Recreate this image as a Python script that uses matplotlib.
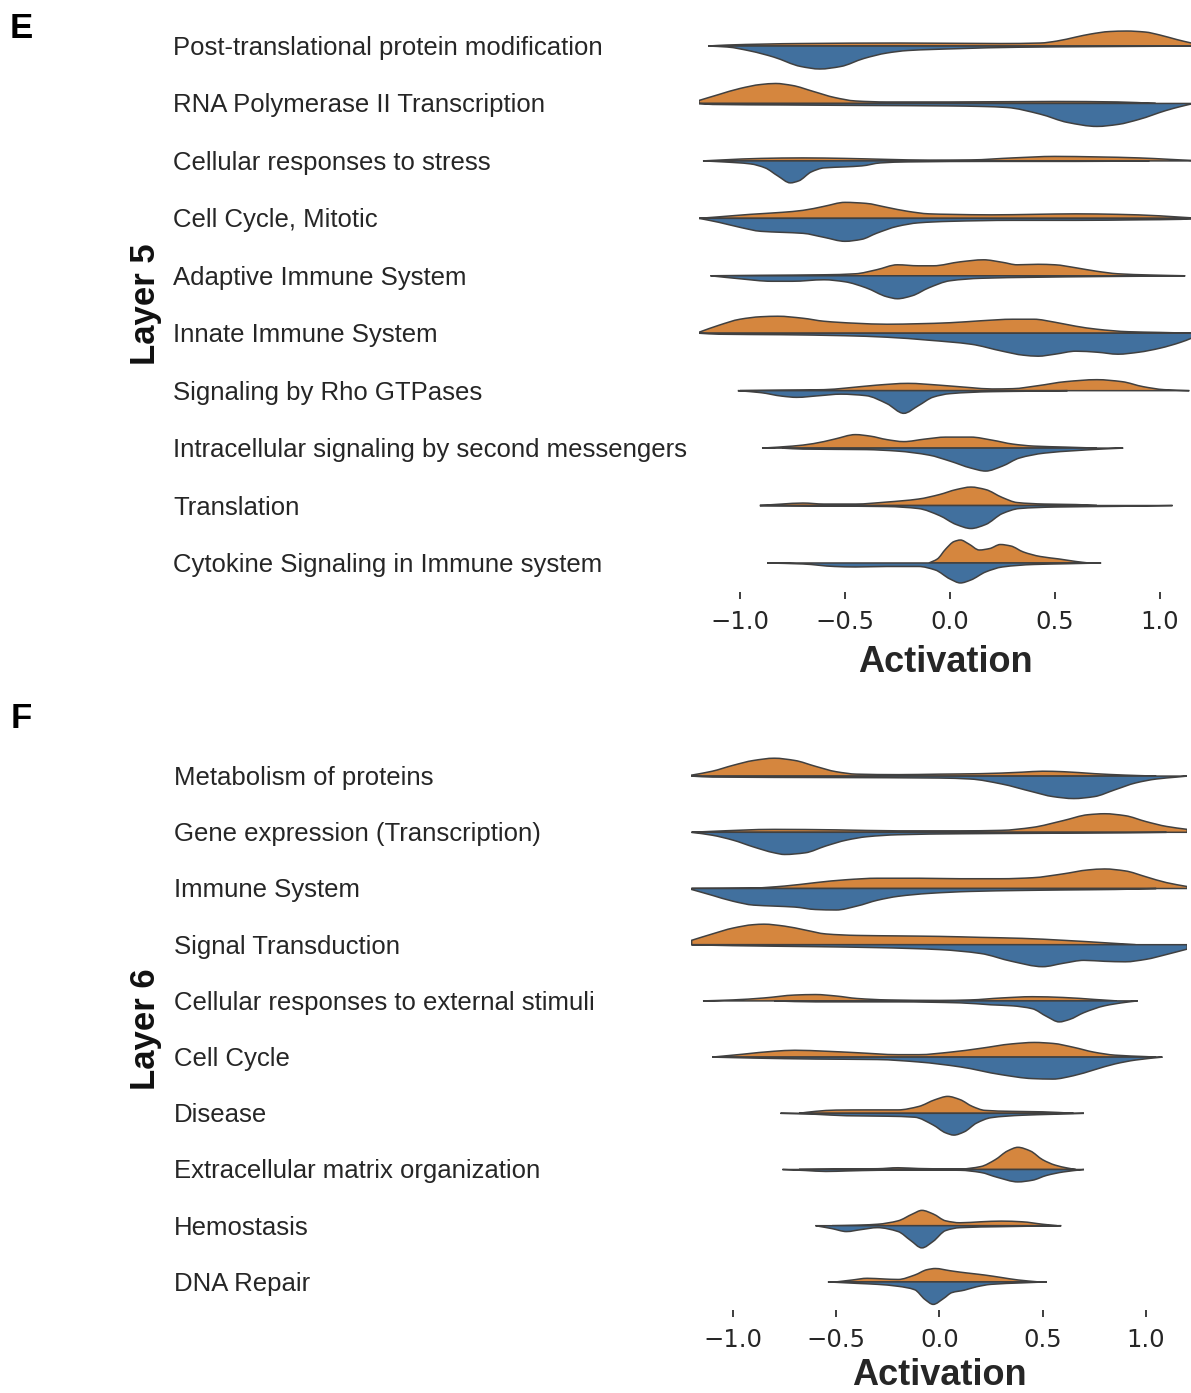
import numpy as np
import matplotlib.pyplot as plt
import matplotlib.transforms as mtransforms
from matplotlib.path import Path
from matplotlib.patches import PathPatch

plt.rcParams['font.family'] = ['Liberation Sans', 'DejaVu Sans']

# ---- Layer 5 pathways (top to bottom) ----
l5_labels = [
    'Post-translational protein modification',
    'RNA Polymerase II Transcription',
    'Cellular responses to stress',
    'Cell Cycle, Mitotic',
    'Adaptive Immune System',
    'Innate Immune System',
    'Signaling by Rho GTPases',
    'Intracellular signaling by second messengers',
    'Translation',
    'Cytokine Signaling in Immune system',
]

# group 1 (orange, upper half): activation grid and density per row
l5_g1_x = [
    [-1.152, -1.06, -0.71, -0.24, 0.24, 0.43, 0.51, 0.6, 0.67, 0.76, 0.84, 0.93, 1.0, 1.08, 1.15, 1.22],
    [-1.195, -1.1, -1.0, -0.9, -0.83, -0.75, -0.65, -0.55, -0.45, -0.3, 0.0, 0.5, 0.8, 0.98],
    [-1.176, -1.08, -0.9, -0.7, -0.5, -0.3, -0.1, 0.1, 0.3, 0.5, 0.7, 0.9, 1.05, 1.15, 1.22],
    [-1.195, -1.1, -0.95, -0.8, -0.7, -0.6, -0.5, -0.4, -0.3, -0.2, -0.1, 0.0, 0.2, 0.4, 0.6, 0.8, 1.0, 1.15, 1.22],
    [-1.14, -0.9, -0.6, -0.45, -0.35, -0.25, -0.15, -0.08, 0.05, 0.16, 0.25, 0.32, 0.42, 0.5, 0.6, 0.7, 0.8, 0.95, 1.12],
    [-1.195, -1.1, -1.0, -0.9, -0.82, -0.7, -0.6, -0.45, -0.3, -0.15, 0.0, 0.15, 0.3, 0.4, 0.5, 0.6, 0.7, 0.85, 1.0, 1.15],
    [-1.0, -0.8, -0.6, -0.5, -0.35, -0.2, -0.05, 0.1, 0.2, 0.3, 0.42, 0.55, 0.7, 0.82, 0.92, 1.02, 1.14],
    [-0.895, -0.75, -0.65, -0.55, -0.45, -0.38, -0.3, -0.22, -0.12, -0.02, 0.1, 0.2, 0.3, 0.4, 0.55, 0.7],
    [-0.905, -0.8, -0.7, -0.6, -0.45, -0.3, -0.15, -0.05, 0.03, 0.1, 0.17, 0.25, 0.32, 0.45, 0.6, 0.7],
    [-0.1, -0.06, -0.02, 0.02, 0.05, 0.09, 0.14, 0.19, 0.24, 0.29, 0.35, 0.43, 0.52, 0.6, 0.66],
]
l5_g1_d = [
    [0, 1, 2.5, 3, 2.5, 3, 5, 9, 12, 14.5, 15, 14, 11, 6.5, 3, 0],
    [3, 9, 15, 19, 20, 18, 12, 6, 2.5, 1.5, 1.5, 2, 1.5, 0],
    [0, 1, 2.5, 3, 2.5, 1.5, 0.8, 1, 3, 4.5, 4, 3, 1.5, 0.5, 0],
    [0, 1.5, 4, 6, 8, 12, 16, 15, 11, 7, 4.5, 4, 3.5, 4, 4.5, 4, 2.5, 0.5, 0],
    [0, 0.5, 1, 2, 6, 11, 10, 10, 14, 16, 13.5, 11, 11.5, 11, 8, 4.5, 2, 0.8, 0],
    [1, 8, 14, 16.5, 17, 15, 12, 10, 9, 9.5, 10.5, 12.5, 14, 14, 11, 7, 4, 1.5, 0.8, 0],
    [0, 0.5, 1, 2.5, 5.5, 7.3, 5.5, 3, 1.7, 2, 5, 9, 11, 9, 4, 1, 0],
    [0, 2, 4.5, 9, 13.5, 12, 8.5, 6.5, 9, 11, 11, 8, 4, 2, 1, 0],
    [0, 1.5, 2.5, 1.5, 1.5, 3.5, 6.5, 11, 16, 18.5, 16, 8, 3, 1.5, 1, 0],
    [0, 4, 14, 21.5, 23, 19, 13, 14.5, 18.5, 17, 11, 6.5, 4, 1.5, 0],
]

# group 2 (blue, lower half)
l5_g2_x = [
    [-1.152, -1.06, -0.95, -0.84, -0.71, -0.62, -0.52, -0.41, -0.3, -0.2, 0.03, 0.33, 0.7, 1.22],
    [-1.195, -1.13, -0.8, -0.4, 0.0, 0.15, 0.27, 0.43, 0.56, 0.7, 0.8, 0.9, 1.03, 1.1, 1.15],
    [-1.176, -1.08, -0.95, -0.88, -0.82, -0.76, -0.72, -0.66, -0.6, -0.5, -0.42, -0.33, -0.2, 0.2, 0.6, 0.95],
    [-1.195, -1.1, -1.0, -0.9, -0.8, -0.7, -0.6, -0.5, -0.42, -0.35, -0.25, -0.15, 0.0, 0.3, 0.6, 0.9, 1.1, 1.2],
    [-1.14, -1.0, -0.85, -0.75, -0.6, -0.5, -0.4, -0.3, -0.25, -0.18, -0.1, 0.0, 0.15, 0.4, 0.7, 1.0, 1.12],
    [-1.195, -1.1, -0.8, -0.5, -0.3, -0.1, 0.1, 0.25, 0.35, 0.42, 0.5, 0.6, 0.7, 0.8, 0.9, 1.0, 1.1, 1.15, 1.2],
    [-1.01, -0.9, -0.8, -0.73, -0.62, -0.52, -0.4, -0.3, -0.22, -0.15, -0.08, 0.0, 0.2, 0.4, 0.56],
    [-0.8, -0.7, -0.4, -0.25, -0.1, 0.0, 0.1, 0.17, 0.25, 0.33, 0.45, 0.6, 0.72, 0.825],
    [-0.905, -0.6, -0.3, -0.15, -0.05, 0.03, 0.1, 0.17, 0.25, 0.33, 0.5, 0.8, 1.06],
    [-0.87, -0.7, -0.55, -0.45, -0.3, -0.15, -0.07, 0.0, 0.05, 0.1, 0.17, 0.25, 0.4, 0.55, 0.72],
]
l5_g2_d = [
    [0, 1, 5, 11, 20.5, 23, 20.5, 12.5, 7, 4.5, 2.7, 1.2, 0.6, 0],
    [0, 1, 1.5, 2, 2.5, 3, 4, 10.7, 19, 23, 21, 16, 7, 3, 0.5],
    [0, 1, 3, 7, 15, 22, 20, 11, 7, 6, 5, 2, 1, 0.5, 0.5, 0],
    [0, 4, 9, 13, 14, 15, 19, 23, 21, 15, 8, 4.5, 3, 2, 2, 1.5, 1, 0],
    [0, 3, 5.5, 5.5, 4, 6, 12, 21, 23, 20, 12, 5, 2.5, 1.5, 0.8, 0.3, 0],
    [0, 1, 1.5, 2.5, 4, 7, 11, 18, 22, 23, 21, 18, 19, 21, 19, 15, 9, 5, 0],
    [0, 2, 5.5, 6.7, 5, 3.5, 5, 13, 22.7, 15, 6.5, 3, 1, 0.5, 0],
    [0, 1, 1.5, 3, 7, 13, 20, 23, 18, 10, 5, 2.5, 1, 0],
    [0, 0.5, 1, 3, 10, 19, 23, 19, 8, 3, 1.5, 0.8, 0],
    [0, 1, 3.5, 4, 3.5, 3.5, 7, 16, 20, 17, 9, 4, 1.5, 0.8, 0],
]

# ---- Layer 6 pathways ----
l6_labels = [
    'Metabolism of proteins',
    'Gene expression (Transcription)',
    'Immune System',
    'Signal Transduction',
    'Cellular responses to external stimuli',
    'Cell Cycle',
    'Disease',
    'Extracellular matrix organization',
    'Hemostasis',
    'DNA Repair',
]

l6_g1_x = [
    [-1.2, -1.1, -1.0, -0.9, -0.8, -0.7, -0.6, -0.5, -0.4, -0.2, 0.0, 0.2, 0.4, 0.5, 0.6, 0.75, 0.9, 1.05],
    [-1.2, -1.1, -0.8, -0.5, -0.2, 0.1, 0.3, 0.45, 0.6, 0.72, 0.8, 0.9, 1.0, 1.1, 1.2],
    [-1.2, -0.9, -0.75, -0.6, -0.45, -0.3, -0.1, 0.1, 0.3, 0.45, 0.6, 0.72, 0.8, 0.9, 1.0, 1.1, 1.2],
    [-1.2, -1.1, -1.0, -0.9, -0.85, -0.75, -0.65, -0.55, -0.4, -0.2, 0.0, 0.2, 0.4, 0.6, 0.8, 0.95],
    [-1.145, -1.0, -0.85, -0.7, -0.6, -0.5, -0.4, -0.25, 0.0, 0.15, 0.3, 0.45, 0.6, 0.75, 0.86],
    [-1.1, -0.95, -0.8, -0.7, -0.55, -0.4, -0.2, -0.1, 0.05, 0.2, 0.35, 0.46, 0.55, 0.65, 0.75, 0.85, 1.0, 1.05],
    [-0.68, -0.6, -0.5, -0.35, -0.2, -0.1, -0.02, 0.04, 0.1, 0.16, 0.22, 0.35, 0.5, 0.65],
    [-0.68, -0.5, -0.3, -0.2, -0.1, 0.1, 0.2, 0.27, 0.33, 0.38, 0.44, 0.5, 0.56, 0.62, 0.66],
    [-0.52, -0.4, -0.3, -0.2, -0.13, -0.085, -0.03, 0.03, 0.1, 0.2, 0.3, 0.4, 0.5, 0.57],
    [-0.5, -0.42, -0.35, -0.27, -0.2, -0.12, -0.06, -0.02, 0.05, 0.1, 0.16, 0.22, 0.3, 0.38, 0.48],
]
l6_g1_d = [
    [1, 5, 11, 16, 18.3, 16, 10, 4.5, 2, 1.5, 2, 2.5, 4, 5, 4.5, 2.5, 1, 0],
    [0, 1, 3, 2.5, 1.5, 1.5, 2, 5, 12, 18, 19, 17, 11, 6, 3],
    [0, 0.5, 2.5, 6, 9, 10.5, 10.5, 10, 10, 11, 15, 19, 20, 18, 12, 6, 2],
    [4.5, 11, 17, 20.5, 21, 19, 15, 11, 9.5, 9, 8.5, 7.5, 6.5, 4.5, 2, 0],
    [0, 1, 3, 6, 6.5, 5, 2.5, 1, 0.5, 1, 3, 4.3, 3.5, 1.5, 0],
    [0, 3, 6, 7, 6, 4.5, 2.5, 2.5, 5, 9, 13.5, 15, 14, 10, 5, 2, 0.5, 0],
    [0, 2, 3.3, 3.5, 3.5, 7, 14, 17.3, 14, 7, 3, 2, 1.5, 0],
    [0, 0.5, 0.8, 1.8, 1, 0.5, 3, 10, 19, 22.7, 19, 10, 4.5, 1.5, 0],
    [0, 0.5, 1.5, 5, 12, 15.7, 12, 5, 3, 4, 4.7, 4, 1.5, 0],
    [0, 2, 3.7, 3, 2.5, 7, 12.5, 13.7, 11.5, 10, 8.5, 7, 4.5, 2, 0],
]

l6_g2_x = [
    [-1.2, -1.1, -0.5, 0.0, 0.15, 0.3, 0.45, 0.55, 0.65, 0.75, 0.85, 0.95, 1.05, 1.15, 1.2],
    [-1.2, -1.1, -1.0, -0.9, -0.8, -0.75, -0.65, -0.55, -0.45, -0.35, -0.2, 0.1, 0.5, 0.9, 1.1],
    [-1.2, -1.1, -1.0, -0.9, -0.8, -0.7, -0.6, -0.5, -0.4, -0.3, -0.2, -0.05, 0.15, 0.4, 0.6, 0.85, 1.05],
    [-1.2, -1.0, -0.6, -0.3, 0.0, 0.2, 0.35, 0.5, 0.6, 0.7, 0.8, 0.9, 1.0, 1.1, 1.2],
    [-0.8, -0.6, -0.2, 0.1, 0.25, 0.35, 0.45, 0.52, 0.58, 0.63, 0.7, 0.8, 0.9, 0.96],
    [-1.1, -0.9, -0.6, -0.3, -0.1, 0.1, 0.3, 0.45, 0.55, 0.65, 0.75, 0.85, 0.95, 1.08],
    [-0.77, -0.6, -0.45, -0.25, -0.12, -0.03, 0.03, 0.07, 0.12, 0.18, 0.25, 0.4, 0.55, 0.7],
    [-0.76, -0.65, -0.55, -0.45, -0.3, -0.1, 0.1, 0.2, 0.28, 0.38, 0.45, 0.52, 0.6, 0.7],
    [-0.6, -0.52, -0.45, -0.38, -0.3, -0.2, -0.14, -0.085, -0.03, 0.03, 0.1, 0.3, 0.59],
    [-0.54, -0.4, -0.3, -0.2, -0.12, -0.07, -0.03, 0.02, 0.06, 0.12, 0.18, 0.25, 0.4, 0.52],
]
l6_g2_d = [
    [0, 1, 1.5, 2, 3, 8, 16, 21, 23, 21, 14, 7, 3, 1, 0],
    [0, 3, 8, 15, 21, 22.7, 21, 14, 8, 4.5, 2.5, 1.5, 1, 0.5, 0],
    [1, 7, 13, 17, 18, 19, 21.5, 22, 18, 12, 8, 5, 3, 2, 1.5, 1, 0],
    [0, 1, 2, 3, 5, 9, 17, 22.5, 19, 16, 17, 17.5, 15, 10, 4.5],
    [0, 1, 1, 2, 4, 5, 8, 16, 21.5, 19, 12, 5, 1.5, 0],
    [0, 1, 2, 2.5, 5, 10, 18, 22, 22.5, 19, 13, 7, 3, 0],
    [0, 1, 2.5, 3, 4, 12, 20, 22.3, 19, 10, 4.5, 2, 1, 0],
    [0, 1, 2, 1.5, 0.8, 0.5, 0.8, 3, 8, 12.7, 11, 6, 2.5, 0],
    [0, 3, 6, 4, 2, 6, 15, 22.7, 16, 5, 2, 1, 0],
    [0, 1.5, 2.5, 4.5, 8, 18, 23, 17, 11, 8.5, 5, 2.5, 1, 0],
]

xticks = [-1.0, -0.5, 0.0, 0.5, 1.0]
xtick_labels = ['\u22121.0', '\u22120.5', '0.0', '0.5', '1.0']

colors = ['#d5863e', '#41709e']
edge_col = '#404040'
text_col = '#262626'
dens_scale = 0.4 / 23   # density -> fraction of row spacing


def half_violin(xs, ds, y0, sign):
    """Smooth closed outline of one half of a split violin."""
    x = np.asarray(xs, float)
    y = y0 + sign * np.asarray(ds, float) * dens_scale
    h = np.diff(x)
    sec = np.diff(y) / h
    m = np.zeros_like(y)
    m[0], m[-1] = sec[0], sec[-1]
    for i in range(1, len(y) - 1):
        if sec[i - 1] * sec[i] > 0:
            w1 = 2 * h[i] + h[i - 1]
            w2 = h[i] + 2 * h[i - 1]
            m[i] = (w1 + w2) / (w1 / sec[i - 1] + w2 / sec[i])
    verts = [(x[0], y0), (x[0], y[0])]
    codes = [Path.MOVETO, Path.LINETO]
    for i in range(len(x) - 1):
        d = h[i] / 3
        verts += [(x[i] + d, y[i] + m[i] * d),
                  (x[i + 1] - d, y[i + 1] - m[i + 1] * d),
                  (x[i + 1], y[i + 1])]
        codes += [Path.CURVE4] * 3
    verts += [(x[-1], y0), (x[0], y0)]
    codes += [Path.LINETO, Path.CLOSEPOLY]
    return Path(verts, codes)


def draw_panel(fig, ax, labels, g1x, g1d, g2x, g2d, xlim, label_x, labelpad):
    n = len(labels)
    trans = mtransforms.blended_transform_factory(fig.transFigure, ax.transData)
    for i in range(n):
        y0 = n - 1 - i
        ax.add_patch(PathPatch(half_violin(g1x[i], g1d[i], y0, 1),
                               facecolor=colors[0], edgecolor=edge_col, lw=1.1))
        ax.add_patch(PathPatch(half_violin(g2x[i], g2d[i], y0, -1),
                               facecolor=colors[1], edgecolor=edge_col, lw=1.1))
        ax.text(label_x, y0 - 0.035, labels[i], transform=trans, ha='left',
                va='center', fontsize=18.5, color=text_col)
    ax.set_xlim(xlim)
    ax.set_ylim(-0.5, n - 0.5)
    for s in ax.spines.values():
        s.set_visible(False)
    ax.set_yticks([])
    ax.set_xticks(xticks, labels=xtick_labels, fontfamily='DejaVu Sans')
    ax.tick_params(axis='x', length=5, width=1.25, color=text_col,
                   labelcolor=text_col, labelsize=17.5, pad=8)
    ax.set_xlabel('Activation', fontsize=26, fontweight='bold',
                  color=text_col, labelpad=labelpad)


W, H = 1191, 1393
fig = plt.figure(figsize=(W / 100, H / 100), dpi=100)

ax5 = fig.add_axes([699 / W, 1 - 591.7 / H, 492 / W, 574.4 / H])
draw_panel(fig, ax5, l5_labels, l5_g1_x, l5_g1_d, l5_g2_x, l5_g2_d,
           (-1.195, 1.148), 173 / W, 8)

ax6 = fig.add_axes([691 / W, 1 - 1310 / H, 496 / W, 562 / H])
draw_panel(fig, ax6, l6_labels, l6_g1_x, l6_g1_d, l6_g2_x, l6_g2_d,
           (-1.203, 1.199), 174 / W, 4)

fig.text(145 / W, 1 - 304 / H, 'Layer 5', rotation=90, fontsize=25,
         fontweight='bold', ha='center', va='center', color='#111111')
fig.text(145 / W, 1 - 1029 / H, 'Layer 6', rotation=90, fontsize=25,
         fontweight='bold', ha='center', va='center', color='#111111')

fig.text(21 / W, 1 - 28 / H, 'E', fontsize=25, fontweight='bold',
         ha='center', va='center', color='black')
fig.text(21 / W, 1 - 719 / H, 'F', fontsize=25, fontweight='bold',
         ha='center', va='center', color='black')

fig.savefig('out.png', dpi=100)
